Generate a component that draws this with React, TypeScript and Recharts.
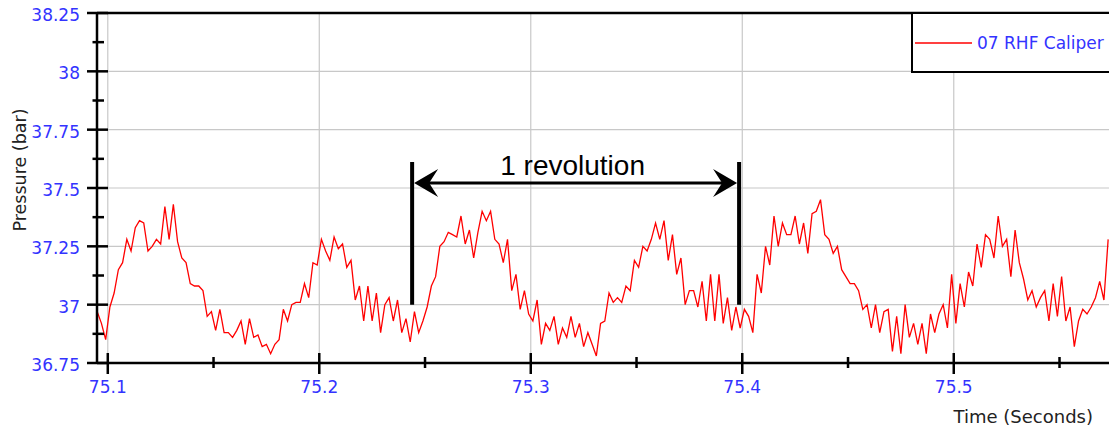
import React from 'react';
import { LineChart, Line, XAxis, YAxis, ReferenceLine, Legend } from 'recharts';

// Sampling of the trace (seconds)
const startTime = 75.095;
const sampleStep = 0.002;

// Pressure (bar), in five consecutive stretches
const pressureA = [
  36.97, 36.92, 36.85, 36.99, 37.05, 37.15, 37.18, 37.28, 37.23, 37.33,
  37.36, 37.35, 37.23, 37.25, 37.28, 37.26, 37.42, 37.28, 37.43, 37.27,
  37.2, 37.18, 37.09, 37.08, 37.08, 37.06, 36.95, 36.97, 36.89, 36.98,
  36.88, 36.88, 36.86, 36.89, 36.93, 36.83, 36.94, 36.86, 36.87, 36.82,
  36.83, 36.79, 36.83, 36.85, 36.98, 36.93, 37.0, 37.01, 37.01,
];
const pressureB = [
  37.09, 37.03, 37.18, 37.17, 37.28, 37.23, 37.19, 37.29, 37.24, 37.26,
  37.16, 37.19, 37.02, 37.08, 36.93, 37.08, 36.93, 37.05, 36.88, 37.0,
  37.03, 36.93, 37.02, 36.88, 36.94, 36.84, 36.97, 36.88, 36.93, 36.99,
  37.08, 37.12, 37.25, 37.27, 37.31, 37.3, 37.29, 37.38, 37.26, 37.32,
  37.2, 37.31, 37.4, 37.36, 37.4, 37.28, 37.26, 37.18,
];
const pressureC = [
  37.28, 37.06, 37.13, 36.98, 37.06, 36.96, 36.93, 37.02, 36.83, 36.92,
  36.89, 36.95, 36.83, 36.9, 36.86, 36.95, 36.86, 36.92, 36.82, 36.88,
  36.83, 36.78, 36.92, 36.93, 37.05, 37.01, 37.03, 37.01, 37.08, 37.06,
  37.19, 37.16, 37.25, 37.23, 37.28, 37.35, 37.28, 37.36, 37.19, 37.3,
  37.13, 37.2, 37.0, 37.06, 37.06, 36.99, 37.1, 36.93,
];
const pressureD = [
  37.13, 36.93, 37.13, 36.92, 37.03, 36.89, 36.99, 36.9, 36.98, 36.95,
  36.88, 37.13, 37.05, 37.25, 37.17, 37.38, 37.25, 37.35, 37.3, 37.3,
  37.38, 37.26, 37.35, 37.22, 37.39, 37.4, 37.45, 37.3, 37.28, 37.22,
  37.25, 37.15, 37.12, 37.09, 37.09, 37.06, 36.98, 37.0, 36.9, 37.0,
  36.88, 36.97, 36.98, 36.8, 36.95, 36.79, 37.0, 36.86,
];
const pressureE = [
  36.92, 36.83, 36.92, 36.79, 36.96, 36.88, 36.96, 37.0, 36.9, 37.13,
  36.92, 37.09, 36.99, 37.14, 37.08, 37.26, 37.16, 37.3, 37.28, 37.2,
  37.38, 37.25, 37.28, 37.12, 37.32, 37.18, 37.11, 37.02, 37.06, 36.99,
  37.03, 37.06, 36.93, 37.09, 36.95, 37.12, 36.93, 36.99, 36.82, 36.93,
  36.98, 36.96, 36.99, 37.03, 37.1, 37.02, 37.28,
];

const xDomain = [75.0949, 75.5734];
const yDomain = [36.75, 38.25];
const xMajorTicks = [75.1, 75.2, 75.3, 75.4, 75.5];
const xMinorTicks = [75.15, 75.25, 75.35, 75.45, 75.55];
const yMajorTicks = [36.75, 37, 37.25, 37.5, 37.75, 38, 38.25];
const yMinorTicks = [36.875, 37.125, 37.375, 37.625, 37.875, 38.125];
const yGridValues = [37, 37.25, 37.5, 37.75, 38];

// "1 revolution" annotation (time in s, pressure in bar)
const revolutionStart = 75.2439;
const revolutionEnd = 75.3985;
const markerBottom = 37.0;
const markerTop = 37.611;
const arrowLevel = 37.521;

const seriesName = '07 RHF Caliper';

const pressure = [...pressureA, ...pressureB, ...pressureC, ...pressureD, ...pressureE];
const data = pressure.map((p, i) => ({
  time: Math.round((startTime + i * sampleStep) * 10000) / 10000,
  pressure: p,
}));

const xTicks = [...xMajorTicks, ...xMinorTicks].sort((a, b) => a - b);
const yTicks = [...yMajorTicks, ...yMinorTicks].sort((a, b) => a - b);

const FONT = '"DejaVu Sans", Verdana, sans-serif';
const BLUE = '#3333ff';

const isIn = (arr: number[], v: number) => arr.some((a) => Math.abs(a - v) < 1e-6);

const YTick = (props: any) => {
  const { x, y, payload } = props;
  const major = isIn(yMajorTicks, payload.value);
  return (
    <g>
      <line
        x1={major ? x - 10 : x - 4.5}
        x2={major ? x + 11 : x + 7}
        y1={y}
        y2={y}
        stroke="#000"
        strokeWidth={2.5}
      />
      {major && (
        <text
          x={x - 17}
          y={y + 2}
          textAnchor="end"
          dominantBaseline="central"
          fontFamily={FONT}
          fontSize={17}
          fill={BLUE}
        >
          {String(payload.value)}
        </text>
      )}
    </g>
  );
};

const XTick = (props: any) => {
  const { x, y, payload } = props;
  const major = isIn(xMajorTicks, payload.value);
  return (
    <g>
      <line
        x1={x}
        x2={x}
        y1={major ? y - 10 : y - 6}
        y2={major ? y + 11 : y + 5}
        stroke="#000"
        strokeWidth={2.5}
      />
      {major && (
        <text
          x={x}
          y={y + 23.5}
          textAnchor="middle"
          dominantBaseline="central"
          fontFamily={FONT}
          fontSize={17}
          fill={BLUE}
        >
          {String(payload.value)}
        </text>
      )}
    </g>
  );
};

const YTitle = (props: any) => {
  const vb = props.viewBox || { x: 0, y: 13, width: 97, height: 350 };
  const cx = vb.x + 20;
  const cy = vb.y + 157;
  return (
    <text
      x={cx}
      y={cy}
      transform={`rotate(-90, ${cx}, ${cy})`}
      textAnchor="middle"
      dominantBaseline="central"
      fontFamily={FONT}
      fontSize={17.5}
      fill="#222"
    >
      Pressure (bar)
    </text>
  );
};

const XTitle = (props: any) => {
  const vb = props.viewBox || { x: 97, y: 363, width: 1012, height: 67 };
  return (
    <text
      x={vb.x + vb.width - 16}
      y={vb.y + 60}
      textAnchor="end"
      fontFamily={FONT}
      fontSize={18}
      fill="#222"
    >
      Time (Seconds)
    </text>
  );
};

const ArrowShape = (p: any) => {
  const { x1, y1, x2 } = p;
  const left = Math.min(x1, x2) + 2;
  const right = Math.max(x1, x2) - 2;
  const y = y1;
  const len = 24;
  const half = 14;
  const notch = 15;
  return (
    <g>
      <line x1={left + notch - 2} x2={right - notch + 2} y1={y} y2={y} stroke="#000" strokeWidth={3} />
      <polygon
        points={`${left},${y} ${left + len},${y - half} ${left + notch},${y} ${left + len},${y + half}`}
        fill="#000"
      />
      <polygon
        points={`${right},${y} ${right - len},${y - half} ${right - notch},${y} ${right - len},${y + half}`}
        fill="#000"
      />
      <text
        x={(left + right) / 2 - 3}
        y={y - 8}
        textAnchor="middle"
        fontFamily='"Liberation Sans", Arial, sans-serif'
        fontSize={28}
        fill="#000"
      >
        1 revolution
      </text>
    </g>
  );
};

const LegendBox = () => (
  <div
    style={{
      boxSizing: 'border-box',
      width: 198,
      height: 61,
      border: '2.5px solid #000',
      borderRight: 'none',
      background: '#fff',
      display: 'flex',
      alignItems: 'center',
      fontFamily: FONT,
      fontSize: 17,
      color: BLUE,
      whiteSpace: 'nowrap',
    }}
  >
    <svg width={60} height={10} style={{ display: 'block' }}>
      <line x1={2} x2={59} y1={5} y2={5} stroke="#ff0000" strokeWidth={1.5} />
    </svg>
    <span style={{ marginLeft: 4 }}>{seriesName}</span>
  </div>
);

export default function App() {
  return (
    <div style={{ position: 'absolute', left: 0, top: 0, width: 1109, height: 430, background: '#fff' }}>
      <LineChart width={1109} height={430} data={data} margin={{ top: 13, right: 0, bottom: 0, left: 0 }}>
        {xMajorTicks.map((t) => (
          <ReferenceLine key={'gx' + t} x={t} stroke="#c8c8c8" strokeWidth={1.2} />
        ))}
        {yGridValues.map((v) => (
          <ReferenceLine key={'gy' + v} y={v} stroke="#c8c8c8" strokeWidth={1.2} />
        ))}
        <ReferenceLine y={yDomain[1]} stroke="#000" strokeWidth={2.5} />
        <XAxis
          dataKey="time"
          type="number"
          domain={xDomain}
          allowDataOverflow
          ticks={xTicks}
          interval={0}
          height={67}
          tickSize={0}
          tickMargin={0}
          tickLine={false}
          tick={<XTick />}
          axisLine={{ stroke: '#000', strokeWidth: 2.5 }}
          label={{ content: <XTitle /> }}
        />
        <YAxis
          type="number"
          domain={yDomain}
          allowDataOverflow
          ticks={yTicks}
          interval={0}
          width={97}
          tickSize={0}
          tickMargin={0}
          tickLine={false}
          tick={<YTick />}
          axisLine={{ stroke: '#000', strokeWidth: 2.5 }}
          label={{ content: <YTitle /> }}
        />
        <Line
          type="linear"
          dataKey="pressure"
          name={seriesName}
          stroke="#ff0000"
          strokeWidth={1.3}
          dot={false}
          activeDot={false}
          isAnimationActive={false}
        />
        <ReferenceLine
          segment={[{ x: revolutionStart, y: markerBottom }, { x: revolutionStart, y: markerTop }]}
          stroke="#000"
          strokeWidth={4}
        />
        <ReferenceLine
          segment={[{ x: revolutionEnd, y: markerBottom }, { x: revolutionEnd, y: markerTop }]}
          stroke="#000"
          strokeWidth={4}
        />
        <ReferenceLine
          segment={[{ x: revolutionStart, y: arrowLevel }, { x: revolutionEnd, y: arrowLevel }]}
          stroke="#000"
          shape={(p: any) => <ArrowShape {...p} />}
        />
        <Legend
          layout="vertical"
          align="center"
          verticalAlign="middle"
          content={<LegendBox />}
          wrapperStyle={{ position: 'absolute', left: 911, top: 12, width: 198, height: 61, margin: 0, padding: 0 }}
        />
      </LineChart>
    </div>
  );
}
